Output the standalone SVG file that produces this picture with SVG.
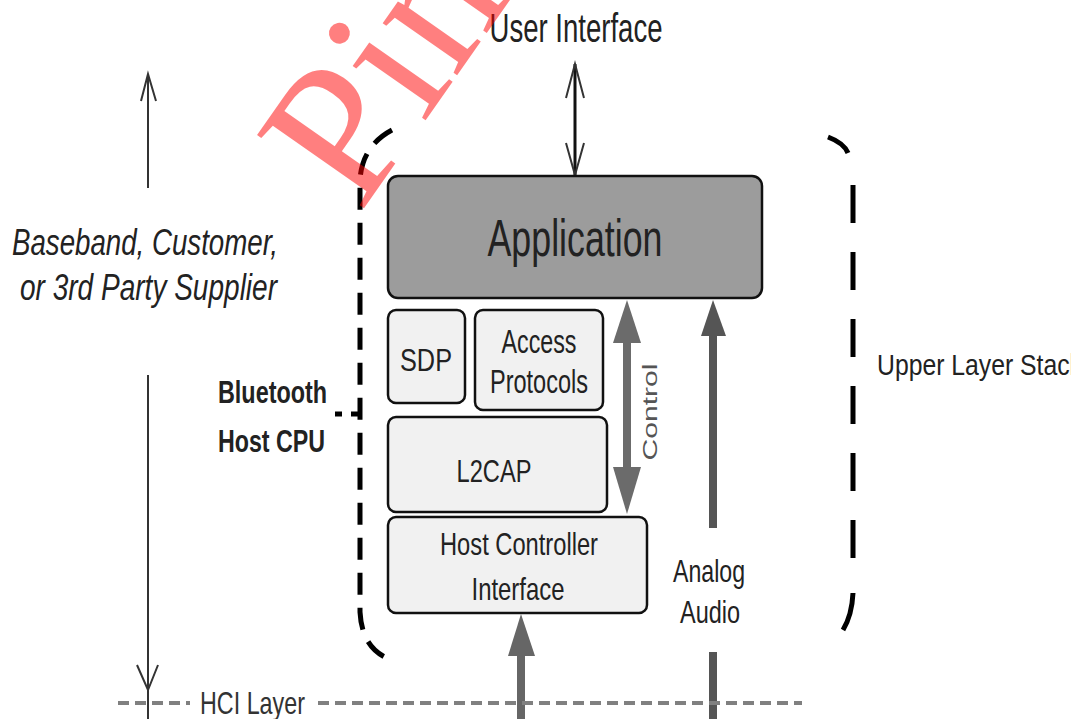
<svg xmlns="http://www.w3.org/2000/svg" width="1071" height="719" viewBox="0 0 1071 719">
<style>
.t{font-family:"Liberation Sans",Arial,sans-serif;fill:#222;}
.box{fill:#f1f1f1;stroke:#111;stroke-width:2.5;}
.app{fill:#9c9c9c;stroke:#111;stroke-width:2.5;}
.thin{stroke:#333;stroke-width:2;fill:none;}
.brk{stroke:#000;stroke-width:5;fill:none;}
</style>
<rect width="1071" height="719" fill="#fff"/>

<g id="connectors">
  <!-- user interface arrow -->
  <line x1="575" y1="64" x2="575" y2="175" stroke="#111" stroke-width="3"/>
  <polyline points="566,98 575,64 584,98" class="thin" stroke="#111"/>
  <polyline points="566,143 575,175 584,143" class="thin" stroke="#111"/>
  <!-- left vertical arrow -->
  <line x1="148" y1="74" x2="148" y2="188" stroke="#333" stroke-width="2"/>
  <line x1="148" y1="375" x2="148" y2="719" stroke="#333" stroke-width="2"/>
  <polyline points="141,101 148,74 156,101" class="thin"/>
  <polyline points="137,665 148,690 158,665" class="thin"/>
  <!-- control arrow -->
  <line x1="627" y1="335" x2="627" y2="475" stroke="#6b6b6b" stroke-width="8"/>
  <polygon points="627,300 613,343 641,343" fill="#6b6b6b"/>
  <polygon points="627,514 613,467 641,467" fill="#6b6b6b"/>
  <!-- analog audio arrow -->
  <line x1="713" y1="330" x2="713" y2="528" stroke="#555" stroke-width="8"/>
  <polygon points="713,300 701,336 726,336" fill="#555"/>
  <line x1="713" y1="652" x2="713" y2="719" stroke="#555" stroke-width="8"/>
  <!-- HCI arrow -->
  <line x1="521" y1="650" x2="521" y2="719" stroke="#666" stroke-width="8"/>
  <polygon points="521,614 508,656 535,656" fill="#666"/>
  <!-- HCI layer dashed line -->
  <line x1="118" y1="703" x2="190" y2="703" stroke="#808080" stroke-width="4" stroke-dasharray="11 6"/>
  <line x1="318" y1="703" x2="802" y2="703" stroke="#808080" stroke-width="4" stroke-dasharray="11 6"/>
  <!-- brackets -->
  <path d="M392,130 Q362,146 360,180 L360,612 Q362,650 392,660" class="brk" stroke-dasharray="22 13"/>
  <line x1="335" y1="414" x2="360" y2="414" stroke="#000" stroke-width="5" stroke-dasharray="7 9"/>
  <path d="M828,137 Q844,143 848,153" class="brk"/>
  <line x1="853" y1="185" x2="853" y2="565" class="brk" stroke-dasharray="38 29"/>
  <path d="M853,593 Q852,615 843,630" class="brk"/>
</g>

<g id="application">
  <rect x="388" y="176" width="374" height="122" rx="10" class="app"/>
  <text class="t" x="575" y="256" font-size="52" text-anchor="middle" textLength="175" lengthAdjust="spacingAndGlyphs">Application</text>
</g>
<g id="sdp">
  <rect x="388" y="310" width="77" height="93" rx="8" class="box"/>
  <text class="t" x="426" y="371" font-size="32" text-anchor="middle" textLength="52" lengthAdjust="spacingAndGlyphs">SDP</text>
</g>
<g id="access">
  <rect x="475" y="310" width="128" height="100" rx="8" class="box"/>
  <text class="t" x="539" y="353" font-size="33" text-anchor="middle" textLength="75" lengthAdjust="spacingAndGlyphs">Access</text>
  <text class="t" x="539" y="393" font-size="33" text-anchor="middle" textLength="98" lengthAdjust="spacingAndGlyphs">Protocols</text>
</g>
<g id="l2cap">
  <rect x="388" y="417" width="219" height="95" rx="8" class="box"/>
  <text class="t" x="494" y="482" font-size="32" text-anchor="middle" textLength="75" lengthAdjust="spacingAndGlyphs">L2CAP</text>
</g>
<g id="hci">
  <rect x="388" y="517" width="259" height="96" rx="8" class="box"/>
  <text class="t" x="519" y="555" font-size="32" text-anchor="middle" textLength="158" lengthAdjust="spacingAndGlyphs">Host Controller</text>
  <text class="t" x="518" y="600" font-size="32" text-anchor="middle" textLength="93" lengthAdjust="spacingAndGlyphs">Interface</text>
</g>

<g id="labels">
  <text class="t" x="576" y="42" font-size="40" text-anchor="middle" textLength="173" lengthAdjust="spacingAndGlyphs">User Interface</text>
  <text class="t" x="12" y="255" font-size="36" font-style="italic" textLength="266" lengthAdjust="spacingAndGlyphs">Baseband, Customer,</text>
  <text class="t" x="20" y="300" font-size="36" font-style="italic" textLength="257" lengthAdjust="spacingAndGlyphs">or 3rd Party Supplier</text>
  <text class="t" x="218" y="403" font-size="32" font-weight="bold" textLength="109" lengthAdjust="spacingAndGlyphs">Bluetooth</text>
  <text class="t" x="218" y="452" font-size="32" font-weight="bold" textLength="107" lengthAdjust="spacingAndGlyphs">Host CPU</text>
  <text class="t" x="877" y="375" font-size="30" textLength="205" lengthAdjust="spacingAndGlyphs">Upper Layer Stack</text>
  <text class="t" x="709" y="582" font-size="32" text-anchor="middle" textLength="72" lengthAdjust="spacingAndGlyphs">Analog</text>
  <text class="t" x="710" y="623" font-size="32" text-anchor="middle" textLength="60" lengthAdjust="spacingAndGlyphs">Audio</text>
  <text class="t" x="0" y="0" font-size="20" text-anchor="middle" style="fill:#555" transform="translate(657,412) rotate(-90)" textLength="97" lengthAdjust="spacingAndGlyphs">Control</text>
  <text class="t" x="200" y="714" font-size="32" textLength="105" lengthAdjust="spacingAndGlyphs" style="fill:#333">HCI Layer</text>
</g>

<g id="watermark">
  <text x="0" y="0" transform="translate(360,214) rotate(-55)" font-family="'Liberation Serif','Times New Roman',serif" font-size="198" fill="#ff0000" fill-opacity="0.5">Pim</text>
</g>
</svg>
